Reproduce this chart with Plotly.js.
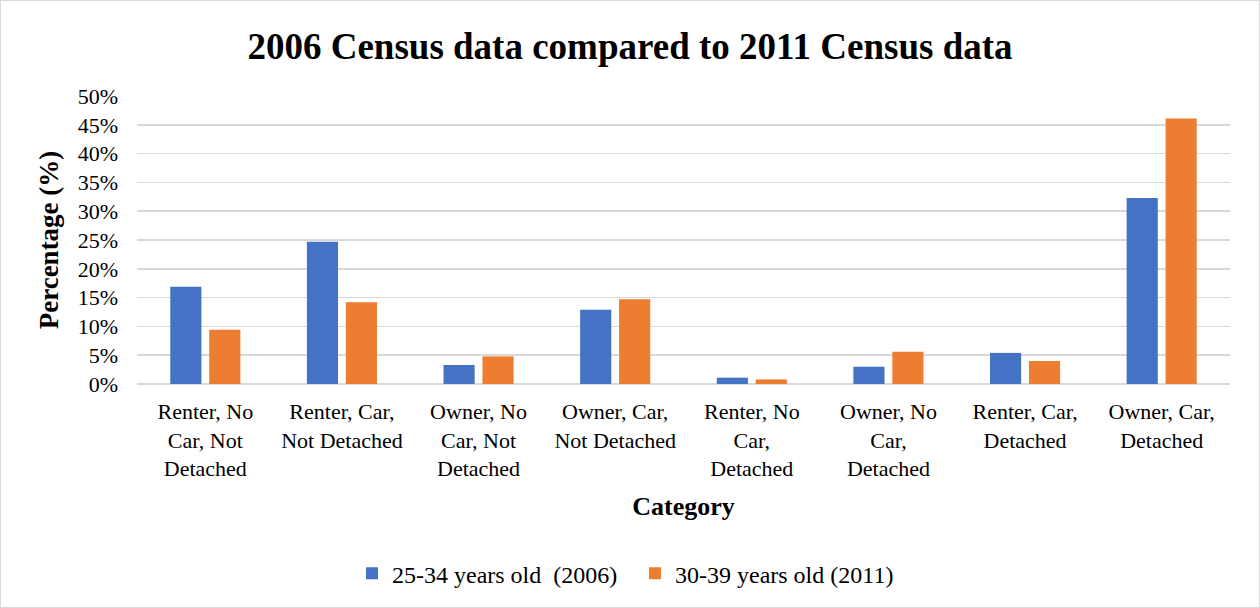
<!DOCTYPE html>
<html>
<head>
<meta charset="utf-8">
<script src="https://cdn.plot.ly/plotly-3.0.1.min.js"></script>
<style>
  html, body { margin: 0; padding: 0; background: #ffffff; }
  #frame { width: 1258px; height: 606px; border: 1px solid #d9d9d9; }
  #chart { width: 1258px; height: 606px; }
</style>
</head>
<body>
<div id="frame"><div id="chart"></div></div>
<script>
// Household categories (tenure, car ownership, dwelling type)
const categories = [
  "Renter, No<br>Car, Not<br>Detached",
  "Renter, Car,<br>Not Detached",
  "Owner, No<br>Car, Not<br>Detached",
  "Owner, Car,<br>Not Detached",
  "Renter, No<br>Car,<br>Detached",
  "Owner, No<br>Car,<br>Detached",
  "Renter, Car,<br>Detached",
  "Owner, Car,<br>Detached"
];

// Share of each cohort in each category, percent
const age2534_2006 = [16.9, 24.7, 3.3, 12.9, 1.1, 3.0, 5.4, 32.3];
const age3039_2011 = [9.4, 14.2, 4.8, 14.7, 0.8, 5.6, 4.0, 46.1];

const seriesNames = ["25-34 years old  (2006)", "30-39 years old (2011)"];
const yTicks = [0, 5, 10, 15, 20, 25, 30, 35, 40, 45, 50];

const serif = "'Liberation Serif', 'Times New Roman', serif";

const traces = [
  {
    type: "bar",
    name: seriesNames[0],
    x: categories,
    y: age2534_2006,
    marker: { color: "#4472c4" },
    hoverinfo: "x+y"
  },
  {
    type: "bar",
    name: seriesNames[1],
    x: categories,
    y: age3039_2011,
    marker: { color: "#ed7d31" },
    hoverinfo: "x+y"
  }
];

const layout = {
  width: 1258,
  height: 606,
  margin: { l: 136, r: 29, t: 95, b: 223 },
  paper_bgcolor: "#ffffff",
  plot_bgcolor: "#ffffff",
  font: { family: serif, size: 22, color: "#000000" },
  barmode: "group",
  bargap: 0.43,
  bargroupgap: 0.2,
  title: {
    text: "<b>2006 Census data compared to 2011 Census data</b>",
    font: { family: serif, size: 37, color: "#000000" },
    x: 0.5, xref: "container", xanchor: "center",
    y: 0.926, yref: "container", yanchor: "middle"
  },
  xaxis: {
    type: "category",
    showgrid: false,
    showline: false,
    ticks: "",
    tickfont: { family: serif, size: 22, color: "#000000" },
    ticklabelstandoff: 12,
    title: {
      text: "<b>Category</b>",
      font: { family: serif, size: 26, color: "#000000" },
      standoff: 16
    }
  },
  yaxis: {
    range: [0, 50],
    tickvals: yTicks,
    ticktext: yTicks.map(v => v + "%"),
    showgrid: true,
    gridcolor: "#d9d9d9",
    gridwidth: 1.5,
    zeroline: true,
    zerolinecolor: "#d9d9d9",
    zerolinewidth: 1.5,
    showline: false,
    ticks: "",
    tickfont: { family: serif, size: 22, color: "#000000" },
    ticklabelstandoff: 18,
    title: {
      text: "<b>Percentage (%)</b>",
      font: { family: serif, size: 27, color: "#000000" },
      standoff: 11
    }
  },
  legend: {
    orientation: "h",
    x: 0.279, xref: "container", xanchor: "left",
    y: 0.055, yref: "container", yanchor: "middle",
    font: { family: serif, size: 24, color: "#000000" },
    itemwidth: 30,
    entrywidth: 238,
    traceorder: "normal"
  },
  showlegend: true
};

Plotly.newPlot("chart", traces, layout, { displayModeBar: false, staticPlot: true });
</script>
</body>
</html>
